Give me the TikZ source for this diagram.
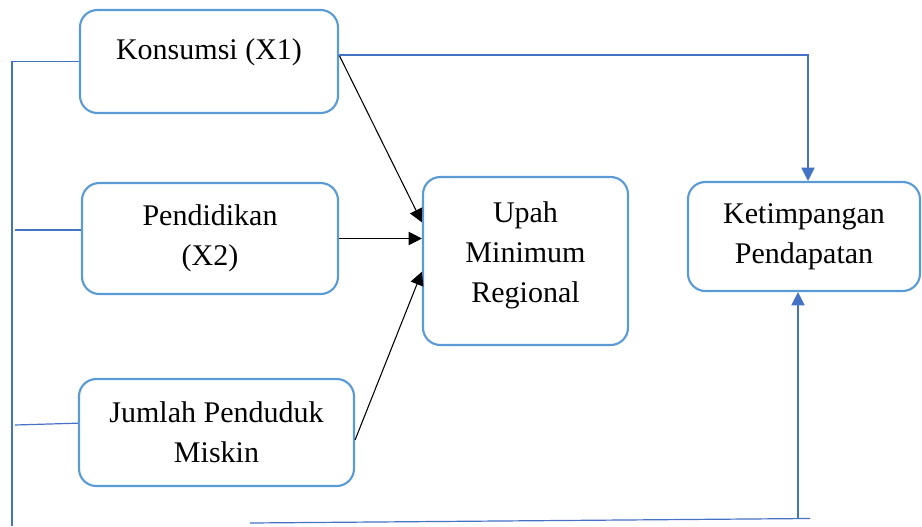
\documentclass[tikz,border=0pt]{standalone}
\usepackage{fontspec}
\setmainfont{Liberation Serif}
\usetikzlibrary{arrows.meta}
\definecolor{boxblue}{RGB}{91,155,213}
\definecolor{lineblue}{RGB}{68,114,196}
\tikzset{
  varbox/.style={draw=boxblue, line width=1.6pt, rounded corners=13pt, align=center,
    font=\fontsize{22.5}{30}\selectfont},
  bluelink/.style={draw=lineblue, line width=0.9pt},
  blacklink/.style={draw=black, line width=0.8pt, -{Triangle[length=10pt,width=10pt]}},
  bluetip/.style={-{Triangle[length=10pt,width=10pt]}, lineblue}
}
\begin{document}
\begin{tikzpicture}[x=0.75pt,y=-0.75pt]
    \useasboundingbox (0,0) rectangle (922,526);
    % Variable boxes
    \node[varbox, minimum width=193.5pt, minimum height=77.25pt, text depth=19pt] (kons) at (209,61.5) {Konsumsi (X1)};
    \node[varbox, minimum width=192pt, minimum height=83.25pt] (pend) at (210,238.5) {Pendidikan\\(X2)};
    \node[varbox, minimum width=206.25pt, minimum height=80.25pt] (jumlah) at (216.5,432.5) {Jumlah Penduduk\\Miskin};
    \node[varbox, minimum width=153.75pt, minimum height=126pt, text depth=14pt] (upah) at (525.5,261) {Upah\\Minimum\\Regional};
    \node[varbox, minimum width=174pt, minimum height=81.75pt] (ketim) at (804,236.5) {Ketimpangan\\Pendapatan};
    % Free ends of the blue lines
    \coordinate (kout) at ([yshift=4.9pt]kons.east);
    \coordinate (lbot) at (12,526);
    \coordinate (lp) at (15,230);
    \coordinate (lj) at (15,425);
    \coordinate (bstart) at (250,523);
    \coordinate (bend) at (810,518.5);
    \coordinate (bup) at (798,518.5);
    % Arrows into Upah Minimum Regional
    \draw[blacklink] (kout) -- ([yshift=29pt]upah.west);
    \draw[blacklink] (pend.east) -- (pend.east -| upah.west);
    \draw[blacklink] ([yshift=-5.6pt]jumlah.east) -- ([yshift=-8pt]upah.west);
    % Direct links to Ketimpangan Pendapatan
    \draw[bluelink, bluetip] (kout) -| ([xshift=3pt]ketim.north);
    \draw[bluelink] (kons.west) -| (lbot);
    \draw[bluelink] (lp) -- (lp -| pend.west);
    \draw[bluelink] (lj) -- ([yshift=7pt]jumlah.west);
    \draw[bluelink] (bstart) -- (bend);
    \draw[bluelink, bluetip] (bup) -- (bup |- ketim.south);
\end{tikzpicture}
\end{document}
